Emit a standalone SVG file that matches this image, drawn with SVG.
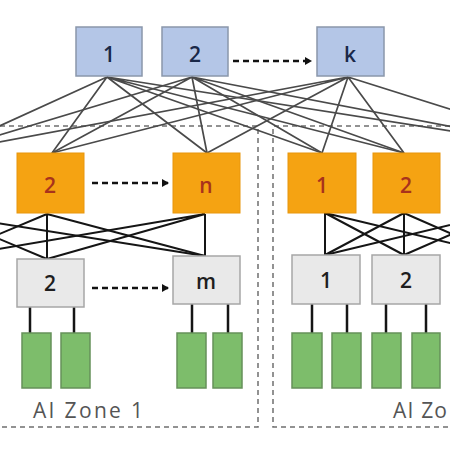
<svg xmlns="http://www.w3.org/2000/svg" width="450" height="450" viewBox="0 0 450 450">
<defs>
<marker id="ah" markerWidth="8" markerHeight="8" refX="6" refY="4" orient="auto" markerUnits="userSpaceOnUse">
<path d="M0,0 L7,4 L0,8 Z" fill="#111"/>
</marker>
<style>
.spine rect{fill:#b4c6e7;stroke:#8a97ab;stroke-width:1.5}
.spine text{fill:#1a2848;font-family:"Open Sans","Liberation Sans",sans-serif;font-size:21px;font-weight:600;text-anchor:middle}
.leaf rect{fill:#f5a312;stroke:#e8960c;stroke-width:1}
.leaf text{fill:#a8321c;font-family:"Open Sans","Liberation Sans",sans-serif;font-size:21px;font-weight:600;text-anchor:middle}
.tor rect{fill:#e9e9e9;stroke:#a6a6a6;stroke-width:1.5}
.tor text{fill:#1e1e1e;font-family:"Open Sans","Liberation Sans",sans-serif;font-size:21px;font-weight:600;text-anchor:middle}
.srv rect{fill:#7dbd6b;stroke:#66915a;stroke-width:1.5}
.up{stroke:#4a4a4a;stroke-width:1.7;fill:none}
.mid{stroke:#151515;stroke-width:2;fill:none}
.dn{stroke:#151515;stroke-width:2.5;fill:none}
.arr{stroke:#111;stroke-width:2.5;stroke-dasharray:6 4;fill:none}
.zone{stroke:#6f6f6f;stroke-width:1.5;stroke-dasharray:5 4;fill:none}
.zl{fill:#555;font-family:"Open Sans","Liberation Sans",sans-serif;font-size:21px;font-weight:500}
</style>
</defs>
<rect width="450" height="450" fill="#fff"/>

<g id="zones">
<path class="zone" d="M0,126 H258 V427 H0"/>
<path class="zone" d="M450,126 H273 V427 H450"/>
</g>

<g id="connectors">
<g class="up">
<path d="M107,77 L-60,153 M107,77 L52,153 M107,77 L207,153 M107,77 L322,153 M107,77 L404,153 M107,77 L590,153"/>
<path d="M192,77 L-60,153 M192,77 L52,153 M192,77 L207,153 M192,77 L322,153 M192,77 L404,153 M192,77 L590,153"/>
<path d="M348,77 L-60,153 M348,77 L52,153 M348,77 L207,153 M348,77 L322,153 M348,77 L404,153 M348,77 L590,153"/>
</g>
<g class="mid">
<path d="M-60,214 L47,259 M-60,214 L205,256"/>
<path d="M47,214 L-60,259 M47,214 L47,259 M47,214 L205,256"/>
<path d="M205,214 L-60,259 M205,214 L47,259 M205,214 L205,256"/>
<path d="M325,213 L325,255 M325,213 L404,255 M325,213 L500,255"/>
<path d="M404,213 L325,255 M404,213 L404,255 M404,213 L500,255"/>
<path d="M500,213 L325,255 M500,213 L404,255"/>
</g>
<g class="dn">
<path d="M30,307 V333 M74,307 V333 M192,304 V333 M228,304 V333"/>
<path d="M312,304 V333 M347,304 V333 M386,304 V333 M426,304 V333"/>
</g>
<path class="arr" d="M233,61 H311" marker-end="url(#ah)"/>
<path class="arr" d="M92,183 H168" marker-end="url(#ah)"/>
<path class="arr" d="M92,288 H168" marker-end="url(#ah)"/>
</g>

<g id="spine-1" class="spine"><rect x="76" y="27" width="66" height="49"/><text x="109" y="62">1</text></g>
<g id="spine-2" class="spine"><rect x="162" y="27" width="66" height="49"/><text x="195" y="62">2</text></g>
<g id="spine-k" class="spine"><rect x="317" y="27" width="67" height="49"/><text x="350" y="62">k</text></g>

<g id="z1-leaf-2" class="leaf"><rect x="17" y="153" width="67" height="60"/><text x="50" y="193">2</text></g>
<g id="z1-leaf-n" class="leaf"><rect x="173" y="153" width="67" height="60"/><text x="206" y="193">n</text></g>
<g id="z2-leaf-1" class="leaf"><rect x="288" y="153" width="68" height="60"/><text x="322" y="193">1</text></g>
<g id="z2-leaf-2" class="leaf"><rect x="373" y="153" width="67" height="60"/><text x="406" y="193">2</text></g>

<g id="z1-tor-2" class="tor"><rect x="17" y="259" width="67" height="48"/><text x="50" y="291">2</text></g>
<g id="z1-tor-m" class="tor"><rect x="173" y="256" width="67" height="48"/><text x="206" y="289">m</text></g>
<g id="z2-tor-1" class="tor"><rect x="292" y="255" width="68" height="49"/><text x="326" y="288">1</text></g>
<g id="z2-tor-2" class="tor"><rect x="372" y="255" width="68" height="49"/><text x="406" y="288">2</text></g>

<g id="z1-servers" class="srv">
<rect x="22" y="333" width="29" height="55"/>
<rect x="61" y="333" width="29" height="55"/>
<rect x="177" y="333" width="29" height="55"/>
<rect x="213" y="333" width="29" height="55"/>
</g>
<g id="z2-servers" class="srv">
<rect x="292" y="333" width="30" height="55"/>
<rect x="332" y="333" width="29" height="55"/>
<rect x="372" y="333" width="29" height="55"/>
<rect x="412" y="333" width="28" height="55"/>
</g>

<text class="zl" x="33" y="418" textLength="110" lengthAdjust="spacing">AI Zone 1</text>
<text class="zl" x="393" y="418" textLength="54" lengthAdjust="spacing">AI Zo</text>
</svg>
